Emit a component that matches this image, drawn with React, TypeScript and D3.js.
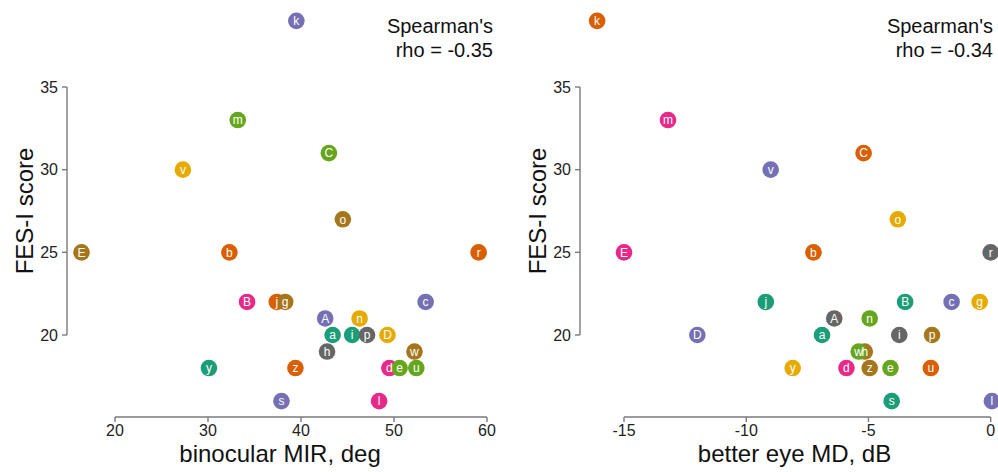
import React from "react";
import * as d3 from "d3";

const ids = ["k","m","v","C","o","E","b","r","B","j","g","c","A","n","a","i","p","D","h","w","y","z","d","e","u","s","l"];
const fesScore = [39,33,30,31,27,25,25,25,22,22,22,22,21,21,20,20,20,20,19,19,18,18,18,18,18,16,16];
const binocularMIR = [39.5,33.2,27.3,43.0,44.5,16.4,32.3,59.1,34.2,37.4,38.3,53.4,42.6,46.3,43.4,45.5,47.1,49.3,42.8,52.2,30.1,39.4,49.5,50.6,52.4,37.9,48.4];
const betterEyeMD = [-16.1,-13.2,-9.0,-5.2,-3.8,-15.0,-7.25,0.0,-3.5,-9.2,-0.45,-1.6,-6.4,-4.95,-6.9,-3.74,-2.4,-12.0,-5.15,-5.4,-8.1,-4.95,-5.9,-4.1,-2.45,-4.05,0.05];
// Dark2 group index per subject in each panel
const groupLeft = [2,4,5,4,6,6,1,1,3,1,6,2,2,5,0,0,7,5,7,6,0,1,3,4,4,2,3];
const groupRight = [1,3,2,1,5,3,1,7,0,0,5,2,7,4,0,7,6,2,6,4,5,6,3,4,1,0,2];
const leftTicks = [20,30,40,50,60];
const rightTicks = [-15,-10,-5,0];
const yTicks = [20,25,30,35];
const rhoLeft = "-0.35";
const rhoRight = "-0.34";

const palette = d3.schemeDark2;
const FONT = "'Liberation Sans', Arial, sans-serif";

function Panel({ xs, groups, xTicks, xDomain, xRange, yAxisX, title, rho, rhoX, yTitleX }) {
  const x = d3.scaleLinear().domain(xDomain).range(xRange);
  const y = d3.scaleLinear().domain([20, 35]).range([335, 87]);
  const ext = d3.extent(xs) as [number, number];
  const pad = (ext[1] - ext[0]) * 0.04;
  const titleCx = (x(ext[0] - pad) + x(ext[1] + pad)) / 2;
  const yExt = d3.extent(fesScore) as [number, number];
  const yPad = (yExt[1] - yExt[0]) * 0.04;
  const titleCy = (y(yExt[0] - yPad) + y(yExt[1] + yPad)) / 2;
  const axisColor = "#7a7a7a";
  const axisY = 417;
  const order = d3.range(ids.length);
  return (
    <g>
      {/* x axis */}
      <line x1={x(xTicks[0])} x2={x(xTicks[xTicks.length - 1])} y1={axisY} y2={axisY} stroke={axisColor} strokeWidth={1.4} />
      {xTicks.map((t) => (
        <g key={"xt" + t}>
          <line x1={x(t)} x2={x(t)} y1={axisY} y2={axisY + 5} stroke={axisColor} strokeWidth={1.4} />
          <text x={x(t)} y={436} textAnchor="middle" fontSize={16} fill="#222" fontFamily={FONT}>{t}</text>
        </g>
      ))}
      <text x={titleCx} y={462} textAnchor="middle" fontSize={24} fill="#111" fontFamily={FONT}>{title}</text>
      {/* y axis */}
      <line x1={yAxisX} x2={yAxisX} y1={y(yTicks[0])} y2={y(yTicks[yTicks.length - 1])} stroke={axisColor} strokeWidth={1.4} />
      {yTicks.map((t) => (
        <g key={"yt" + t}>
          <line x1={yAxisX - 5} x2={yAxisX} y1={y(t)} y2={y(t)} stroke={axisColor} strokeWidth={1.4} />
          <text x={yAxisX - 9} y={y(t)} dy="0.35em" textAnchor="end" fontSize={16} fill="#222" fontFamily={FONT}>{t}</text>
        </g>
      ))}
      <text transform={`translate(${yTitleX},${titleCy}) rotate(-90)`} textAnchor="middle" fontSize={24} fill="#111" fontFamily={FONT}>FES-I score</text>
      {/* annotation */}
      <text x={rhoX} y={33} textAnchor="end" fontSize={20} fill="#111" fontFamily={FONT}>Spearman's</text>
      <text x={rhoX} y={57} textAnchor="end" fontSize={20} fill="#111" fontFamily={FONT}>{`rho = ${rho}`}</text>
      {/* points */}
      {order.map((i) => (
        <circle key={"c" + i} cx={x(xs[i])} cy={y(fesScore[i])} r={8.3} fill={palette[groups[i]]} />
      ))}
      {order.map((i) => (
        <text key={"t" + i} x={x(xs[i])} y={y(fesScore[i])} dy="0.36em" textAnchor="middle" fontSize={12} fill="#fff" fontFamily={FONT}>{ids[i]}</text>
      ))}
    </g>
  );
}

export default function App() {
  return (
    <svg width={998} height={472} style={{ position: "absolute", left: 0, top: 0, background: "#fff" }}>
      <rect width={998} height={472} fill="#fff" />
      <Panel xs={binocularMIR} groups={groupLeft} xTicks={leftTicks} xDomain={[20, 60]} xRange={[115, 487]} yAxisX={67} title="binocular MIR, deg" rho={rhoLeft} rhoX={493} yTitleX={33} />
      <Panel xs={betterEyeMD} groups={groupRight} xTicks={rightTicks} xDomain={[-15, 0]} xRange={[624, 990.7]} yAxisX={580} title="better eye MD, dB" rho={rhoRight} rhoX={993} yTitleX={546} />
    </svg>
  );
}
